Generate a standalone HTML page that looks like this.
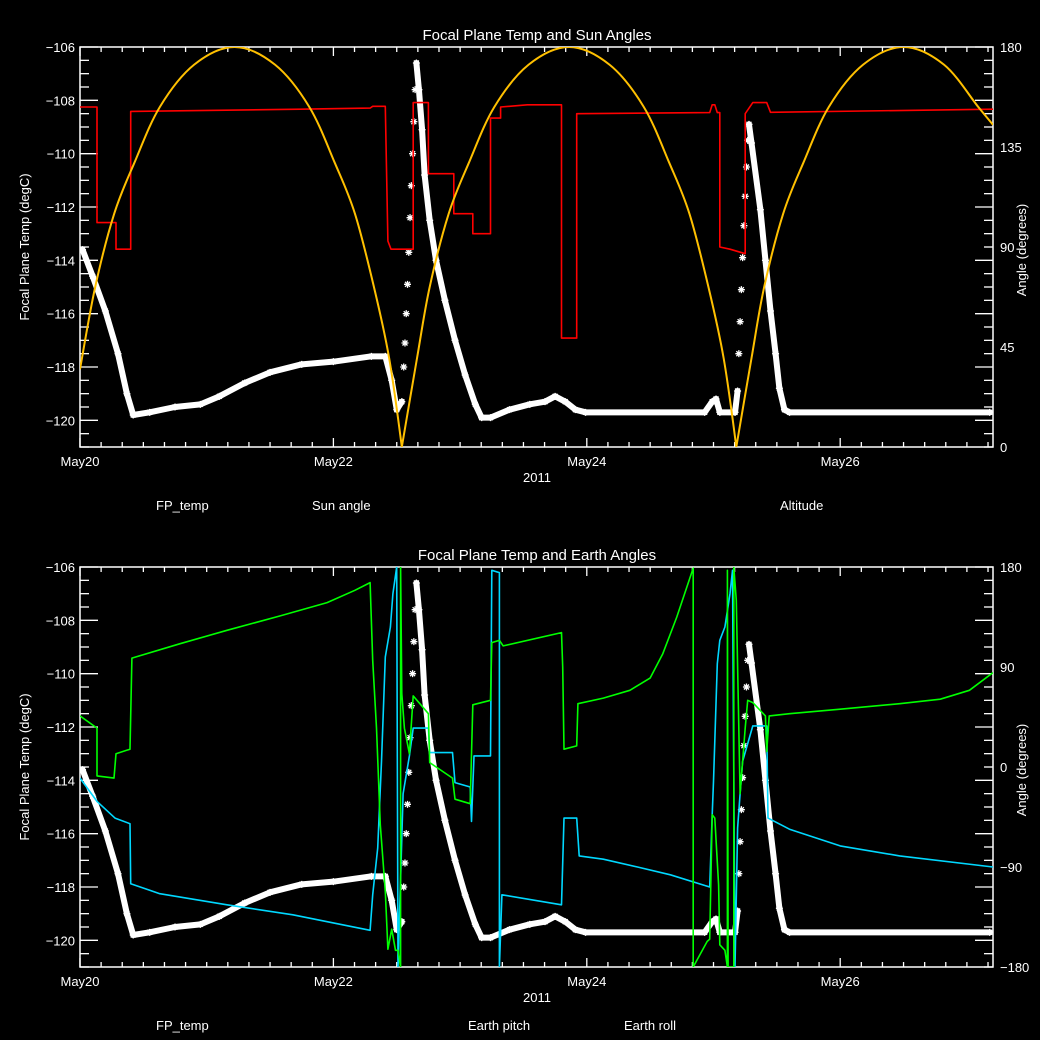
<!DOCTYPE html>
<html><head><meta charset="utf-8"><style>
html,body{margin:0;padding:0;background:#000;}
svg{display:block;}
text{font-family:"Liberation Sans",sans-serif;fill:#fff;}
</style></head><body>
<svg id="chart" width="1040" height="1040" viewBox="0 0 1040 1040" xmlns="http://www.w3.org/2000/svg">
<rect width="1040" height="1040" fill="#000"/>
<defs>
<clipPath id="clipTop"><rect x="80" y="47" width="913" height="400"/></clipPath>
<clipPath id="clipBot"><rect x="80" y="567" width="913" height="400"/></clipPath>
</defs>
<g id="topPanel"></g>
<g id="botPanel"></g>
</svg>
<script>
// ---- data ----
const xTickLabels = ["May20","May22","May24","May26"];
const xTickDays = [0,2,4,6];
const tempTicks = [-106,-108,-110,-112,-114,-116,-118,-120];
const sunAngleTicks = [180,135,90,45,0];
const earthAngleTicks = [180,90,0,-90,-180];

const fpDays = [0.02,0.10,0.20,0.30,0.37,0.42,0.55,0.75,0.95,1.10,1.30,1.50,1.75,2.00,2.30,2.41,2.46,2.50,
 2.54,2.555,2.565,2.575,2.585,2.595,2.605,2.615,2.625,2.635,2.645,2.655,
 2.675,2.70,2.72,2.76,2.81,2.88,2.96,3.04,3.12,3.17,3.24,3.39,3.55,3.67,3.75,3.83,3.91,3.99,4.93,4.99,5.02,5.05,5.17,
 5.19,5.20,5.21,5.22,5.23,5.24,5.25,5.26,5.27,5.28,
 5.30,5.37,5.41,5.45,5.49,5.52,5.56,5.60,7.18];
const fpTemp = [-113.6,-114.6,-115.9,-117.5,-119.0,-119.8,-119.7,-119.5,-119.4,-119.1,-118.6,-118.2,-117.9,-117.8,-117.6,-117.6,-118.5,-119.6,
 -119.3,-118.0,-117.1,-116.0,-114.9,-113.7,-112.4,-111.2,-110.0,-108.8,-107.6,-106.6,
 -107.6,-109.1,-110.8,-112.5,-114.0,-115.5,-117.0,-118.3,-119.4,-119.9,-119.9,-119.6,-119.4,-119.3,-119.1,-119.3,-119.6,-119.7,-119.7,-119.3,-119.2,-119.7,-119.7,
 -118.9,-117.5,-116.3,-115.1,-113.9,-112.7,-111.6,-110.5,-109.5,-108.9,
 -109.6,-112.1,-114.0,-115.9,-117.5,-118.8,-119.6,-119.7,-119.7];

const sunDays = [0,0.134,0.134,0.284,0.284,0.40,0.40,1.74,2.29,2.31,2.41,2.43,2.455,2.63,2.63,2.75,2.75,2.95,2.95,3.10,3.10,3.24,3.24,3.32,3.32,3.53,3.80,3.80,3.92,3.92,4.97,4.99,5.01,5.03,5.05,5.05,5.13,5.25,5.25,5.31,5.42,5.45,7.206];
const sunVals = [153,153,101,101,89,89,151,152,152.5,153.3,153.3,92.7,89,89,155,155,123,123,105,105,96,96,148,148,153,154,154,49,49,150,150.5,154,154,150.5,150.5,90,89,87,150,155,155,150.6,152];

const altDays = [0,0.12,0.27,0.43,0.63,0.90,1.22,1.54,1.81,2.01,2.17,2.32,2.44,2.54,2.66,2.76,2.91,3.07,3.27,3.54,3.86,4.18,4.45,4.65,4.81,4.96,5.08,5.18,5.30,5.40,5.55,5.71,5.91,6.18,6.50,6.82,7.09,7.206];
const altVals = [35,72,105,128,153,172,180,172,153,128,105,72,40,0,40,72,105,128,153,172,180,172,153,128,105,72,40,0,40,72,105,128,153,172,180,172,153,145];

const pitchDays = [0,0.134,0.134,0.268,0.284,0.395,0.41,0.79,1.16,1.58,1.95,2.17,2.29,2.31,2.34,2.37,2.41,2.43,2.46,2.49,2.51,2.53,2.53,2.54,2.56,2.60,2.63,2.75,2.76,2.94,2.96,3.08,3.10,3.24,3.25,3.31,3.34,3.80,3.81,3.82,3.92,3.93,4.13,4.34,4.50,4.60,4.71,4.84,4.84,4.95,4.97,4.99,5.01,5.04,5.05,5.09,5.11,5.11,5.115,5.16,5.16,5.18,5.21,5.25,5.27,5.31,5.41,5.42,5.44,5.60,6.00,6.47,6.79,7.02,7.206];
const pitchVals = [46,35,-8,-10,12,16,98,111,123,136,148,159,166,96,35,-52,-112,-164,-146,-165,-165,-180,180,66,35,12,64,48,4,-10,-29,-33,56,60,112,114,109,121,90,16,19,57,62,69,80,102,135,179,-180,-157,-155,-43,-46,-106,-160,-165,-180,177,-180,-180,180,150,-24,35,60,58,46,14,46,48,52,57,61,69,85];

const rollDays = [0,0.134,0.276,0.395,0.40,0.63,1.16,1.68,2.29,2.31,2.35,2.38,2.41,2.45,2.47,2.50,2.51,2.51,2.55,2.60,2.63,2.75,2.76,2.94,2.96,3.08,3.09,3.11,3.24,3.25,3.31,3.31,3.33,3.80,3.82,3.92,3.94,4.13,4.40,4.66,4.97,4.99,5.00,5.03,5.05,5.09,5.13,5.15,5.17,5.19,5.21,5.23,5.31,5.42,5.43,5.60,6.00,6.47,7.206];
const rollVals = [-10,-31,-46,-51,-105,-114,-124,-133,-147,-115,-73,5,99,126,156,180,-180,-180,-24,10,35,35,13,13,-14,-18,-49,10,10,177,175,-180,-115,-124,-46,-46,-80,-83,-90,-97,-108,-43,-13,93,114,126,156,177,-180,-55,-24,5,37,37,-46,-56,-71,-80,-90];

// ---- geometry ----
const X0=80, X1=993, DMAX=7.206;
const NS="http://www.w3.org/2000/svg";
function xs(d){return X0+(d/DMAX)*(X1-X0);}
function mk(tag,attrs,parent){const e=document.createElementNS(NS,tag);for(const k in attrs)e.setAttribute(k,attrs[k]);parent.appendChild(e);return e;}

function panel(g, top, title, rightTicks, rMin, rMax, clipId){
  const bot=top+400;
  const ty=v=>top+(-106-v)/15*400;
  const ry=v=>top+(rMax-v)/(rMax-rMin)*400;
  const frame=mk('rect',{x:X0,y:top,width:X1-X0,height:400,fill:'none',stroke:'#fff','stroke-width':1.5},g);
  
  
  for(let i=0;i<=30;i++){
    const y=top+i*400/30;
    const len=(i%4===0)?18:9;
    const t1=mk('line',{x1:X0,x2:X0+len,y1:y,y2:y,stroke:'#fff','stroke-width':1.3},g);
    
    
    const t2=mk('line',{x1:X1,x2:X1-len,y1:y,y2:y,stroke:'#fff','stroke-width':1.3},g);
    
    
  }
  for(let i=0;i*(1/6)<=DMAX+1e-6;i++){
    const x=xs(i/6);
    const len=(i%12===0)?9:5;
    const a=mk('line',{x1:x,x2:x,y1:bot,y2:bot-len,stroke:'#fff','stroke-width':1.3},g);
    
    
    const b=mk('line',{x1:x,x2:x,y1:top,y2:top+len,stroke:'#fff','stroke-width':1.3},g);
    
    
  }
  xTickDays.forEach((d,i)=>{
    const t=mk('text',{x:xs(d),y:bot+19,'font-size':13,'text-anchor':'middle'},g);
    t.textContent=xTickLabels[i];
    
    
  });
  tempTicks.forEach(v=>{
    const t=mk('text',{x:75,y:ty(v)+5,'font-size':13,'text-anchor':'end'},g);
    t.textContent=String(v).replace('-','\u2212');
    
    
  });
  rightTicks.forEach(v=>{
    const t=mk('text',{x:1000,y:ry(v)+5,'font-size':13,'text-anchor':'start'},g);
    t.textContent=String(v).replace('-','\u2212');
    
    
  });
  const tt=mk('text',{x:537,y:top-7,'font-size':15,'text-anchor':'middle'},g);
  tt.textContent=title;
  
  
  const yr=mk('text',{x:537,y:bot+35,'font-size':13,'text-anchor':'middle'},g);
  yr.textContent='2011';
  
  
  const ly=mk('text',{x:0,y:0,'font-size':13,'text-anchor':'middle',transform:`translate(29,${top+200}) rotate(-90)`},g);
  ly.textContent='Focal Plane Temp (degC)';
  
  
  const rt=mk('text',{x:0,y:0,'font-size':13,'text-anchor':'middle',transform:`translate(1026,${top+203}) rotate(-90)`},g);
  rt.textContent='Angle (degrees)';
  
  
  const cg=mk('g',{'clip-path':`url(#${clipId})`},g);
  return {ty,ry,cg,bot};
}

function line(parent,days,vals,yf,color,w,name){
  const pts=days.map((d,i)=>xs(d).toFixed(1)+','+yf(vals[i]).toFixed(1)).join(' ');
  const p=mk('polyline',{points:pts,fill:'none',stroke:color,'stroke-width':w,'stroke-linejoin':'round'},parent);
  
  
}
function smooth(parent,days,vals,yf,color,w,name){
  const P=days.map((d,i)=>[xs(d),yf(vals[i])]);
  let dstr='M'+P[0][0]+','+P[0][1];
  for(let i=0;i<P.length-1;i++){
    const p0=P[Math.max(0,i-1)],p1=P[i],p2=P[i+1],p3=P[Math.min(P.length-1,i+2)];
    let c1=[p1[0]+(p2[0]-p0[0])/6,p1[1]+(p2[1]-p0[1])/6];
    let c2=[p2[0]-(p3[0]-p1[0])/6,p2[1]-(p3[1]-p1[1])/6];
    if(vals[i]===0){c1=[p1[0],p1[1]];}
    if(vals[i+1]===0){c2=[p2[0],p2[1]];}
    dstr+=` C${c1[0]},${c1[1]} ${c2[0]},${c2[1]} ${p2[0]},${p2[1]}`;
  }
  const p=mk('path',{d:dstr,fill:'none',stroke:color,'stroke-width':w},parent);
  
  
}
function fpSeries(parent,ty){
  const g=mk('g',{},parent);
  
  
  const P=fpDays.map((d,i)=>[xs(d),ty(fpTemp[i])]);
  for(let i=0;i<P.length-1;i++){
    const dx=P[i+1][0]-P[i][0];
    if(dx>=2.4){
      const s=mk('line',{x1:P[i][0],y1:P[i][1],x2:P[i+1][0],y2:P[i+1][1],stroke:'#fff','stroke-width':6,'stroke-linecap':'round'},g);
      
      
    }
  }
  P.forEach(p=>{
    const a=mk('path',{d:`M${p[0]-3.5},${p[1]}h7M${p[0]},${p[1]-3.5}v7M${p[0]-2.5},${p[1]-2.5}l5,5M${p[0]-2.5},${p[1]+2.5}l5,-5`,stroke:'#fff','stroke-width':1.3,fill:'none'},g);
    
    
  });
}
function legend(g,x,y,txt,color,name){
  const t=mk('text',{x:x,y:y,'font-size':13,fill:color},g);
  t.textContent=txt;
  
  
}

const gt=document.getElementById('topPanel');
const T=panel(gt,47,'Focal Plane Temp and Sun Angles',sunAngleTicks,0,180,'clipTop');
fpSeries(T.cg,T.ty);
line(T.cg,sunDays,sunVals,T.ry,'#ff0000',1.6,'sun-angle-line');
smooth(T.cg,altDays,altVals,T.ry,'#ffc000',2,'altitude-line');
legend(gt,156,510,'FP_temp','#fff','legend-fp-temp');
legend(gt,312,510,'Sun angle','#ff0000','legend-sun-angle');
legend(gt,780,510,'Altitude','#ffc000','legend-altitude');

const gb=document.getElementById('botPanel');
const B=panel(gb,567,'Focal Plane Temp and Earth Angles',earthAngleTicks,-180,180,'clipBot');
fpSeries(B.cg,B.ty);
line(B.cg,rollDays,rollVals,B.ry,'#00d8ff',1.6,'earth-roll-line');
line(B.cg,pitchDays,pitchVals,B.ry,'#00ff00',1.6,'earth-pitch-line');
legend(gb,156,1030,'FP_temp','#fff','legend-fp-temp');
legend(gb,468,1030,'Earth pitch','#00ff00','legend-earth-pitch');
legend(gb,624,1030,'Earth roll','#00d8ff','legend-earth-roll');
</script>
</body></html>
